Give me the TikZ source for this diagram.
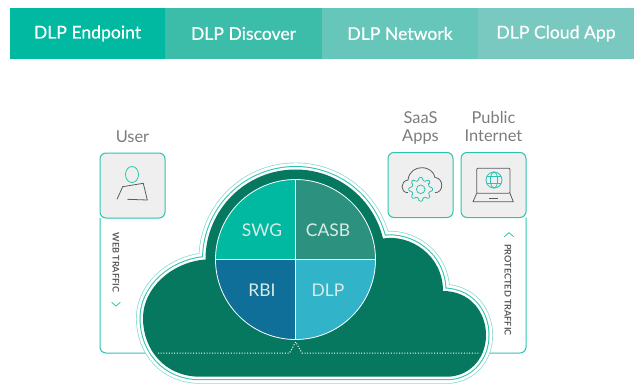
\documentclass[tikz,border=0pt]{standalone}
\usepackage{fontspec}
\setmainfont{Lato}
\newfontfamily\tabfont[RawFeature={embolden=0.35}]{Lato}
\usetikzlibrary{positioning}

\definecolor{tabA}{HTML}{00B9A0}
\definecolor{tabB}{HTML}{3CBDAA}
\definecolor{tabC}{HTML}{66C6BA}
\definecolor{tabD}{HTML}{7AC9C0}
\definecolor{cloudgreen}{HTML}{05785F}
\definecolor{edgeteal}{HTML}{2CC4AE}
\definecolor{edgelight}{HTML}{86D8C9}
\definecolor{boxgrey}{HTML}{EFEFEF}
\definecolor{labelgrey}{HTML}{7A7C7E}
\definecolor{icongrey}{HTML}{5A5D60}
\definecolor{casbgreen}{HTML}{2C917F}
\definecolor{rbiblue}{HTML}{0F6F98}
\definecolor{dlpblue}{HTML}{31B3C9}

\tikzset{
  tabnode/.style={minimum height=51pt, inner sep=0pt, outer sep=0pt, text=white, font=\fontsize{17.6}{20}\tabfont},
  iconbox/.style={draw=edgeteal, fill=boxgrey, line width=1pt, rounded corners=6pt, minimum size=65pt, inner sep=0pt, outer sep=0pt},
  frameline/.style={draw=edgeteal, line width=1pt, rounded corners=6pt},
  toplabel/.style={text=labelgrey, align=center, text depth=4pt, font=\fontsize{16.4}{18}\selectfont},
  sidelabel/.style={text=icongrey, rotate=-90, font=\fontsize{9.1}{10}\selectfont\bfseries},
  pielabel/.style={text=white!85!cloudgreen, font=\fontsize{17.5}{20}\selectfont},
  icondark/.style={draw=icongrey, line width=0.8pt},
  iconteal/.style={draw=edgeteal, line width=0.8pt}
}

\def\cloudpath{(143,318) .. controls (143,288) and (172,262) .. (205.5,259.5)
  arc[start angle=180, end angle=346.5, radius=90]
  .. controls (410,234) and (443,255) .. (443,291)
  .. controls (470,291) and (486,312) .. (486,335)
  .. controls (486,360) and (468,376.7) .. (447,376.7)
  -- (200,376.7)
  .. controls (165,376.7) and (143,350) .. (143,318) -- cycle}

\begin{document}
\begin{tikzpicture}[x=1pt, y=-1pt]
\useasboundingbox (0,0) rectangle (634,383);

% tabs
\node[tabnode, fill=tabA, minimum width=155pt, anchor=north west] (endpoint) at (10,8) {DLP Endpoint};
\node[tabnode, fill=tabB, minimum width=157pt, right=0pt of endpoint] (discover) {DLP Discover};
\node[tabnode, fill=tabC, minimum width=156pt, right=0pt of discover] (network) {DLP Network};
\node[tabnode, fill=tabD, minimum width=156pt, right=0pt of network] (cloudapp) {DLP Cloud App};

% boxes
\node[iconbox] (userbox) at (132.5,185.5) {};
\node[iconbox] (saasbox) at (420.5,185) {};
\node[iconbox] (inetbox) at (493.5,185) {};
\node[toplabel, above=3pt of userbox] (userlabel) {User};
\node[toplabel, above=3pt of saasbox] (saaslabel) {SaaS\\Apps};
\node[toplabel, above=3pt of inetbox] (inetlabel) {Public\\Internet};

% traffic frames
\coordinate (webcorner) at (100,353);
\coordinate (webend) at (165,353);
\coordinate (protcorner) at (526,353);
\coordinate (protend) at (480,353);
\draw[frameline] (userbox.south west) -- (webcorner) -- (webend);
\draw[frameline] (inetbox.south east) -- (protcorner) -- (protend);
\node[sidelabel] (weblabel) at (116,262.5) {WEB TRAFFIC};
\node[sidelabel] (protlabel) at (508,290) {PROTECTED TRAFFIC};
\draw[iconteal] (111.7,302.3) -- (116,306) -- (120.3,302.3);
\draw[iconteal] (504.3,236.7) -- (509,232.7) -- (513.7,236.7);

% user icon
\draw[iconteal] (132,174.5) ellipse (6.5 and 8);
\draw[icondark, line join=round] (127.3,199.3) -- (147.3,200) -- (143.3,183.3) -- (122.7,186.7) -- (117,199.3);

% saas icon
\draw[icondark] (408,192.7) .. controls (400,192.7) and (400,181) .. (408,180)
  .. controls (409,171) and (416,167.7) .. (421.7,167.7)
  .. controls (429,167.7) and (434,172) .. (435,177.5)
  .. controls (444,178) and (444,192.7) .. (435,192.7);
\begin{scope}[shift={(420.7,189.3)}]
\draw[iconteal, fill=boxgrey, rounded corners=1pt] (-31:9)
  \foreach \t in {0,45,...,315} {-- (\t-14:9) -- (\t-8:12) -- (\t+8:12) -- (\t+14:9)} -- cycle;
\draw[iconteal] (0,0) circle (4.3);
\end{scope}

% laptop icon
\draw[icondark, rounded corners=1pt] (476.7,193.3) -- (476.7,168.3) -- (510,168.3) -- (510,193.3) -- cycle;
\draw[icondark, line join=round] (476.7,193.3) -- (473,201.7) -- (513.3,201.7) -- (510,193.3);
\draw[icondark] (489,198.3) -- (498.3,198.3);
\draw[iconteal] (494,180) circle (8);
\draw[iconteal] (494,180) ellipse (3.6 and 8);
\draw[iconteal] (486.7,176.8) -- (501.3,176.8);
\draw[iconteal] (486.7,183.2) -- (501.3,183.2);

% cloud
\draw[edgelight, line width=14pt] \cloudpath;
\draw[white, line width=12.6pt] \cloudpath;
\draw[edgeteal, line width=7pt] \cloudpath;
\draw[white, line width=5pt] \cloudpath;
\fill[cloudgreen] \cloudpath;

% pie
\begin{scope}
\clip (295.5,259.5) circle (80);
\fill[tabA] (215,179) rectangle (295.5,259.5);
\fill[casbgreen] (295.5,179) rectangle (376,259.5);
\fill[rbiblue] (215,259.5) rectangle (295.5,340);
\fill[dlpblue] (295.5,259.5) rectangle (376,340);
\end{scope}
\draw[white, line width=0.8pt] (295.5,259.5) circle (80);
\draw[white, line width=0.8pt] (215.5,259.5) -- (375.5,259.5);
\draw[white, line width=0.8pt] (295.5,179.5) -- (295.5,339.5);
\node[pielabel] (swg) at (262,230) {SWG};
\node[pielabel] (casb) at (328,230) {CASB};
\node[pielabel] (rbi) at (262,290) {RBI};
\node[pielabel] (dlp) at (328,290) {DLP};

% dotted line
\draw[white, line width=1pt, dash pattern=on 1pt off 1.7pt] (158,353) -- (289.5,353) -- (295.7,342) -- (302,353) -- (480,353);
\end{tikzpicture}
\end{document}
